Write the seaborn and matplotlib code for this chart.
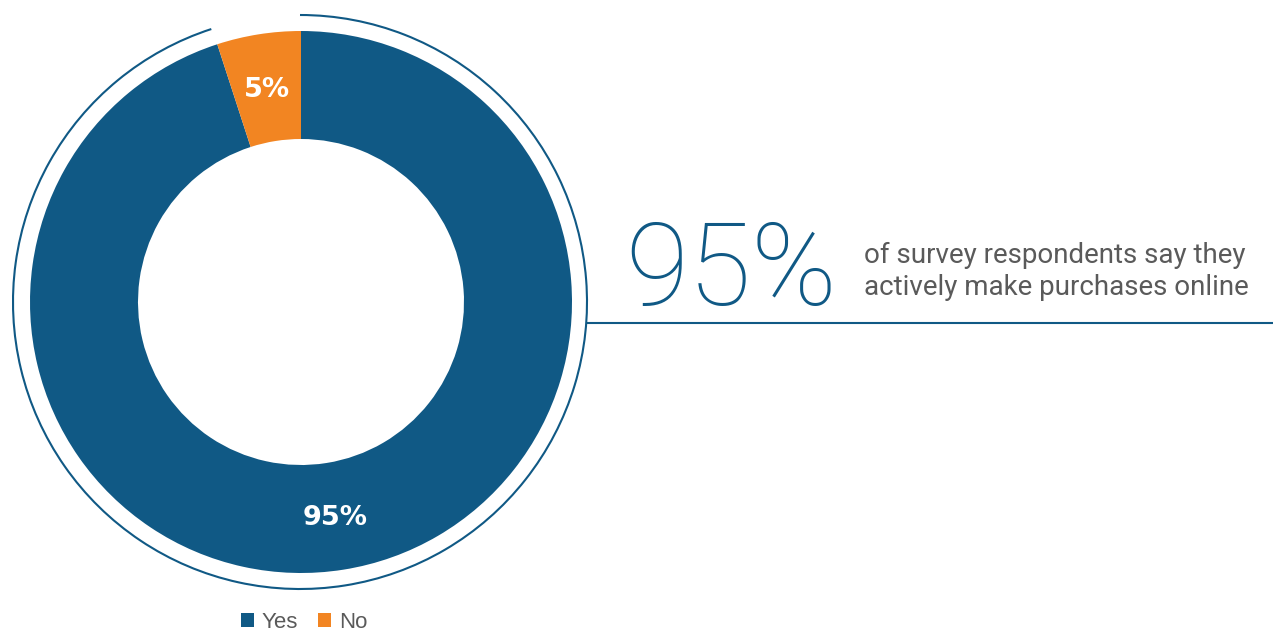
import numpy as np
import matplotlib
matplotlib.use("Agg")
import matplotlib.pyplot as plt
from matplotlib.patches import Arc, Patch
import seaborn as sns

# Survey answers
categories = ["Yes", "No"]
shares = [95, 5]
slice_labels = ["95%", "5%"]
headline = "95%"
caption = ["of survey respondents say they", "actively make purchases online"]

sns.set_theme(style="white")
plt.rcParams["font.family"] = ["Roboto", "DejaVu Sans"]

palette = sns.color_palette(["#105985", "#f28522"])
blue = palette[0]
grey = "#5a5a5a"

W, H = 1273, 632
fig = plt.figure(figsize=(W / 100, H / 100), dpi=100)
ax = fig.add_axes([0, 0, 1, 1])

cx, cy = 301, H - 302
r_out, ring = 271, 108

wedges, _ = ax.pie(
    shares, colors=palette, startangle=90, counterclock=False,
    center=(cx, cy), radius=r_out,
    wedgeprops=dict(width=ring, edgecolor="none", linewidth=0),
    frame=True,
)
ax.set_xlim(0, W)
ax.set_ylim(0, H)
ax.set_aspect("equal")
ax.axis("off")

# Slice value labels in the middle of each ring segment
rr = r_out - ring / 2
for w, lab in zip(wedges, slice_labels):
    mid = np.deg2rad((w.theta1 + w.theta2) / 2)
    ax.text(cx + rr * np.cos(mid), cy + rr * np.sin(mid) - 2, lab,
            color="white", fontsize=19.5, fontweight="bold",
            family=["DejaVu Sans"], ha="center", va="center")

# Thin outer arc tracing the "Yes" share
r_arc = 287
yes_span = 360 * shares[0] / sum(shares)
ax.add_patch(Arc((cx - 1, cy), 2 * r_arc, 2 * r_arc,
                 theta1=90 + (360 - yes_span), theta2=90 + 360,
                 color=blue, lw=1.5))

# Leader line from the arc across to the right edge
line_y = H - 323
x0 = cx - 1 + np.sqrt(r_arc ** 2 - (line_y - cy) ** 2)
ax.plot([x0, W], [line_y, line_y], color=blue, lw=1.5, solid_capstyle="butt")

# Headline figure and caption
ax.text(625, H - 305, headline, color=blue, fontsize=83, fontweight="light",
        ha="left", va="baseline")
ax.text(864, H - 263, caption[0], color=grey, fontsize=20,
        ha="left", va="baseline")
ax.text(864, H - 295, caption[1], color=grey, fontsize=20,
        ha="left", va="baseline")

# Legend
handles = [Patch(facecolor=c, edgecolor="none", label=n)
           for c, n in zip(palette, categories)]
fig.legend(handles=handles, loc="center", bbox_to_anchor=(304 / W, 9.5 / H),
           ncol=2, frameon=False, labelcolor=grey,
           prop={"family": ["Liberation Sans"], "size": 16},
           handlelength=0.6, handleheight=0.6, handletextpad=0.35,
           columnspacing=0.9, borderpad=0)

fig.savefig("out.png", dpi=100)
